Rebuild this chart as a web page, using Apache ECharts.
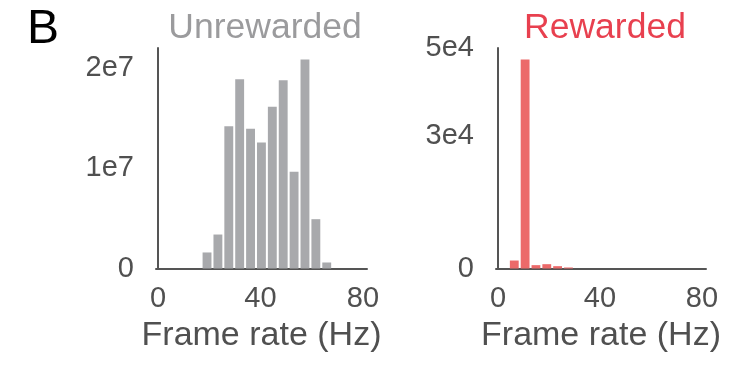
<!DOCTYPE html>
<html>
<head>
<meta charset="utf-8">
<script src="https://cdn.jsdelivr.net/npm/echarts@6/dist/echarts.min.js"></script>
<style>
  html, body { margin: 0; padding: 0; background: #fff; }
  #chart { width: 742px; height: 366px; }
</style>
</head>
<body>
<div id="chart"></div>
<script>
// Histogram bins (Hz): left edge of each bin, shared bin width
const binWidth = 4.25;
const unrewardedBinStarts = [17.0, 21.25, 25.5, 29.75, 34.0, 38.25, 42.5, 46.75, 51.0, 55.25, 59.5, 63.75];
const unrewardedCounts = [0.160e7, 0.339e7, 1.420e7, 1.889e7, 1.394e7, 1.257e7, 1.614e7, 1.879e7, 0.965e7, 2.086e7, 0.492e7, 0.060e7];

const rewardedBinStarts = [4.25, 8.5, 12.75, 17.0, 21.25, 25.5];
const rewardedCounts = [1810, 47400, 760, 980, 530, 230];

// Axis ticks
const xTicks = [0, 40, 80];
const xTickLabels = ['0', '40', '80'];
const leftYTicks = [0, 1e7, 2e7];
const leftYTickLabels = ['0', '1e7', '2e7'];
const rightYTicks = [0, 3e4, 5e4];
const rightYTickLabels = ['0', '3e4', '5e4'];

const titles = ['Unrewarded', 'Rewarded'];
const xName = 'Frame rate (Hz)';

const FONT = '"Liberation Sans", Arial, Helvetica, sans-serif';
const AXIS_COLOR = '#555555';
const TEXT_COLOR = '#505050';

function histData(starts, counts) {
  return starts.map((s, i) => [s, s + binWidth, counts[i]]);
}

function renderBin(params, api) {
  const p0 = api.coord([api.value(0), api.value(2)]);
  const p1 = api.coord([api.value(1), 0]);
  const gap = 1;
  return {
    type: 'rect',
    shape: { x: p0[0] + gap, y: p0[1], width: p1[0] - p0[0] - 2 * gap, height: p1[1] - p0[1] },
    style: { fill: api.visual('color') }
  };
}

function labelFrom(ticks, labels) {
  return v => {
    const i = ticks.findIndex(t => Math.abs(t - v) < 1e-6 * Math.max(1, Math.abs(t)));
    return i >= 0 ? labels[i] : '';
  };
}

function xAxisCfg(gridIndex) {
  return {
    type: 'value', gridIndex, min: -0.8, max: 81.6,
    name: xName, nameLocation: 'middle', nameGap: 48,
    nameTextStyle: { fontFamily: FONT, fontSize: 34, color: TEXT_COLOR },
    axisLine: { show: true, lineStyle: { color: AXIS_COLOR, width: 2 } },
    axisTick: { show: false },
    splitLine: { show: false },
    axisLabel: {
      customValues: xTicks, formatter: labelFrom(xTicks, xTickLabels),
      fontFamily: FONT, fontSize: 29, color: TEXT_COLOR, margin: 16
    }
  };
}

function yAxisCfg(gridIndex, max, ticks, labels) {
  return {
    type: 'value', gridIndex, min: 0, max,
    axisLine: { show: true, lineStyle: { color: AXIS_COLOR, width: 2 } },
    axisTick: { show: false },
    splitLine: { show: false },
    axisLabel: {
      customValues: ticks, formatter: labelFrom(ticks, labels),
      fontFamily: FONT, fontSize: 29, color: TEXT_COLOR, margin: 22
    }
  };
}

const chart = echarts.init(document.getElementById('chart'), null, { renderer: 'canvas' });
chart.setOption({
  animation: false,
  backgroundColor: '#ffffff',
  title: [
    { text: 'B', left: 22, top: 1, textStyle: { fontFamily: FONT, fontSize: 48, fontWeight: 'normal', color: '#000' } },
    { text: titles[0], left: 260, textAlign: 'center', top: 5, textStyle: { fontFamily: FONT, fontSize: 35.5, fontWeight: 'normal', color: '#9b9b9d' } },
    { text: titles[1], left: 600, textAlign: 'center', top: 5, textStyle: { fontFamily: FONT, fontSize: 35.5, fontWeight: 'normal', color: '#e8404f' } }
  ],
  grid: [
    { left: 156, width: 211, top: 48, bottom: 97.5 },
    { left: 496, width: 210, top: 48, bottom: 97.5 }
  ],
  xAxis: [xAxisCfg(0), xAxisCfg(1)],
  yAxis: [
    yAxisCfg(0, 2.2e7, leftYTicks, leftYTickLabels),
    yAxisCfg(1, 5e4, rightYTicks, rightYTickLabels)
  ],
  series: [
    {
      type: 'custom', xAxisIndex: 0, yAxisIndex: 0,
      itemStyle: { color: '#a8a9ac' },
      renderItem: renderBin, encode: { x: [0, 1], y: 2 },
      data: histData(unrewardedBinStarts, unrewardedCounts)
    },
    {
      type: 'custom', xAxisIndex: 1, yAxisIndex: 1,
      itemStyle: { color: '#ec6a6a' },
      renderItem: renderBin, encode: { x: [0, 1], y: 2 },
      data: histData(rewardedBinStarts, rewardedCounts)
    }
  ]
});
</script>
</body>
</html>
